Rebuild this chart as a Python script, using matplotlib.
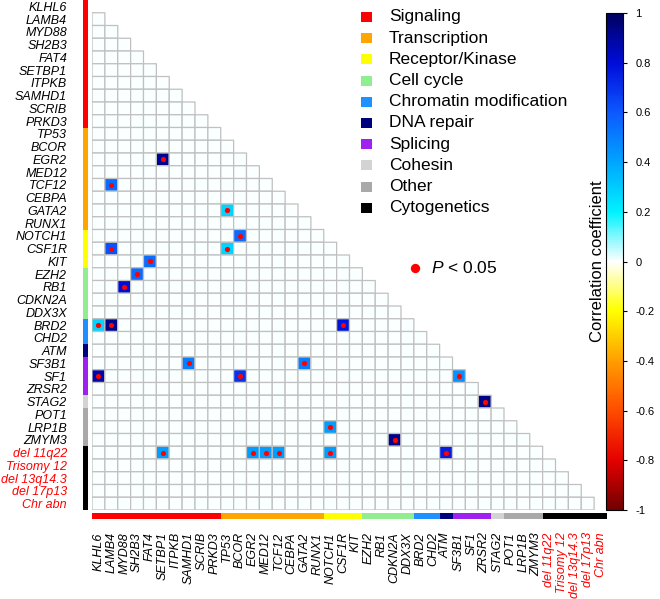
import matplotlib
matplotlib.use("Agg")
import matplotlib.pyplot as plt
import numpy as np
from matplotlib.colors import LinearSegmentedColormap, Normalize
from matplotlib.patches import Rectangle

plt.rcParams["font.family"] = ["Liberation Sans", "DejaVu Sans"]
plt.rcParams["mathtext.fontset"] = "custom"
plt.rcParams["mathtext.it"] = "Liberation Sans:italic"
plt.rcParams["mathtext.rm"] = "Liberation Sans"

genes = ["KLHL6", "LAMB4", "MYD88", "SH2B3", "FAT4", "SETBP1", "ITPKB", "SAMHD1",
         "SCRIB", "PRKD3", "TP53", "BCOR", "EGR2", "MED12", "TCF12", "CEBPA", "GATA2",
         "RUNX1", "NOTCH1", "CSF1R", "KIT", "EZH2", "RB1", "CDKN2A", "DDX3X", "BRD2",
         "CHD2", "ATM", "SF3B1", "SF1", "ZRSR2", "STAG2", "POT1", "LRP1B", "ZMYM3",
         "del 11q22", "Trisomy 12", "del 13q14.3", "del 17p13", "Chr abn"]

categories = ["Signaling", "Transcription", "Receptor/Kinase", "Cell cycle",
              "Chromatin modification", "DNA repair", "Splicing", "Cohesin", "Other",
              "Cytogenetics"]
category_sizes = [10, 8, 3, 4, 2, 1, 3, 1, 3, 5]
category_colors = ["#ff0000", "#ffa500", "#ffff00", "#90ee90", "#1e90ff", "#00007f",
                   "#a020f0", "#d3d3d3", "#a9a9a9", "#000000"]

# significant pairs (row gene, column gene, correlation)
sig_row = ["EGR2", "TCF12", "GATA2", "NOTCH1", "CSF1R", "CSF1R", "KIT", "EZH2", "RB1",
           "BRD2", "BRD2", "BRD2", "SF3B1", "SF3B1", "SF1", "SF1", "SF1", "STAG2",
           "LRP1B", "ZMYM3", "del 11q22", "del 11q22", "del 11q22", "del 11q22",
           "del 11q22", "del 11q22"]
sig_col = ["SETBP1", "LAMB4", "TP53", "BCOR", "LAMB4", "TP53", "FAT4", "SH2B3", "MYD88",
           "KLHL6", "LAMB4", "CSF1R", "SAMHD1", "GATA2", "KLHL6", "BCOR", "SF3B1", "ZRSR2",
           "NOTCH1", "CDKN2A", "SETBP1", "EGR2", "MED12", "TCF12", "NOTCH1", "ATM"]
sig_val = [0.92, 0.55, 0.28, 0.55, 0.62, 0.28, 0.55, 0.55, 0.8,
           0.28, 0.93, 0.78, 0.5, 0.5, 0.88, 0.7, 0.45, 0.93,
           0.42, 0.93, 0.42, 0.42, 0.42, 0.42, 0.42, 0.75]

n = len(genes)
idx = {g: k for k, g in enumerate(genes)}

corr = np.zeros((n, n))
for r, c, v in zip(sig_row, sig_col, sig_val):
    corr[idx[r], idx[c]] = v
mask = np.triu(np.ones((n, n), dtype=bool))
corr = np.ma.masked_array(corr, mask=mask)

cmap = LinearSegmentedColormap.from_list("corr", [
    (0.0, (0.45, 0.0, 0.0)),
    (0.1, (0.9, 0.0, 0.0)),
    (0.2, (1.0, 0.3, 0.0)),
    (0.3, (1.0, 0.62, 0.0)),
    (0.4, (1.0, 1.0, 0.0)),
    (0.5, (1.0, 1.0, 1.0)),
    (0.6, (0.0, 0.95, 1.0)),
    (0.7, (0.0, 0.65, 1.0)),
    (0.8, (0.05, 0.35, 1.0)),
    (0.9, (0.0, 0.05, 0.85)),
    (1.0, (0.0, 0.0, 0.38)),
])
norm = Normalize(-1, 1)

W, H = 660, 599
fig = plt.figure(figsize=(W / 100, H / 100), dpi=100)
ax = fig.add_axes([92 / W, (H - 510) / H, 515 / W, 510 / H])

mesh = ax.pcolor(np.arange(n + 1), np.arange(n + 1), corr, cmap=cmap, norm=norm,
                 edgecolors="#c0c0c0", linewidth=0.9)

px, py = np.array([idx[c] for c in sig_col]) + 0.5, np.array([idx[r] for r in sig_row]) + 0.5
ax.scatter(px, py, s=14, color="#ff0000", zorder=3, linewidths=0)

ax.set_xlim(0, n)
ax.set_ylim(n, 0)
for s in ax.spines.values():
    s.set_visible(False)

label_colors = ["#ff0000" if g.startswith(("del", "Trisomy", "Chr")) else "black" for g in genes]
ax.set_yticks(np.arange(n) + 0.5)
ax.set_yticklabels(genes, fontsize=9, style="italic")
ax.set_xticks(np.arange(n) + 0.5)
ax.set_xticklabels(genes, fontsize=9, style="italic", rotation=90, va="top")
ax.tick_params(length=0)
ax.tick_params(axis="y", pad=18)
ax.tick_params(axis="x", pad=16)
for lab, col in zip(ax.get_yticklabels(), label_colors):
    lab.set_color(col)
for lab, col in zip(ax.get_xticklabels(), label_colors):
    lab.set_color(col)

# category bars along the left and bottom
start = 0
for size, col in zip(category_sizes, category_colors):
    ax.add_patch(Rectangle((-0.70, start), 0.36, size, color=col, clip_on=False, lw=0))
    ax.add_patch(Rectangle((start, 40.26), size, 0.47, color=col, clip_on=False, lw=0))
    start += size

# legend
ov = fig.add_axes([0, 0, 1, 1])
ov.set_xlim(0, W)
ov.set_ylim(H, 0)
ov.axis("off")
for k, (name, col) in enumerate(zip(categories, category_colors)):
    y = 17 + 21.2 * k
    ov.add_patch(Rectangle((361, y - 5), 11, 10, color=col, lw=0))
    ov.text(389, y, name, fontsize=12.5, va="center", ha="left")
ov.scatter([415], [268], s=45, color="#ff0000", linewidths=0)
ov.text(431, 268, "$P$ < 0.05", fontsize=12.5, va="center", ha="left")

# colorbar
cax = fig.add_axes([606 / W, (H - 510) / H, 17 / W, 497 / H])
cb = fig.colorbar(mesh, cax=cax, ticks=np.linspace(-1, 1, 11))
cb.ax.set_yticklabels(["-1", "-0.8", "-0.6", "-0.4", "-0.2", "0", "0.2", "0.4", "0.6", "0.8", "1"])
cb.ax.tick_params(labelsize=8, length=3, width=0.8, pad=6)
cb.outline.set_linewidth(0.8)
cb.ax.yaxis.set_label_position("left")
cb.set_label("Correlation coefficient", fontsize=12, labelpad=1)

fig.savefig("out.png", dpi=100)
